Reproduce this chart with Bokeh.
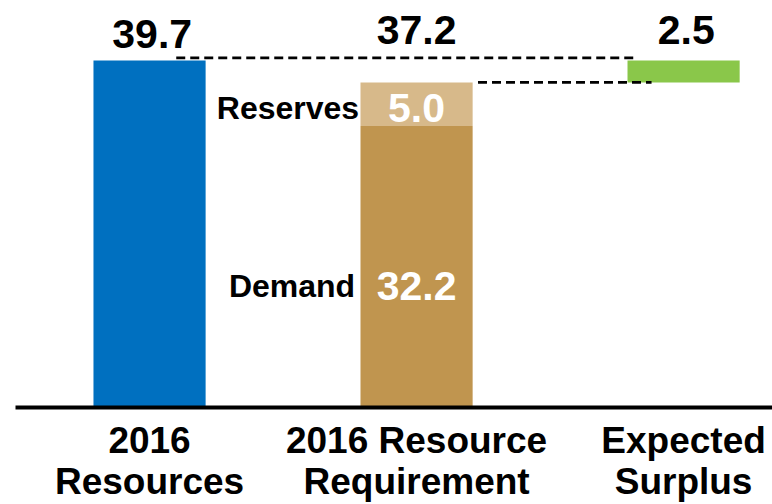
from bokeh.plotting import figure
from bokeh.models import Range1d, FixedTicker, ColumnDataSource
from bokeh.embed import file_html
from bokeh.resources import INLINE
from bokeh.core.properties import value

# ---- data ----
categories = ["2016 Resources", "2016 Resource Requirement", "Expected Surplus"]
tick_labels = ["2016\nResources", "2016 Resource\nRequirement", "Expected\nSurplus"]
resources = 39.7
demand = 32.2
reserves = 5.0
surplus = 2.5
requirement = 37.2

FONT = "Liberation Sans"
BLUE = "#0070C0"
TAN = "#C0954F"
LTAN = "#D7B98A"
GREEN = "#8AC74A"

xs = list(range(len(categories)))
W = 0.42

p = figure(width=772, height=504, output_backend="svg", toolbar_location=None,
           x_range=Range1d(-0.502, 2.333), y_range=Range1d(0, 46.57),
           min_border_left=15, min_border_right=0, min_border_top=0, min_border_bottom=97)
p.background_fill_color = "white"
p.border_fill_color = "white"
p.outline_line_color = None
p.xgrid.visible = False
p.ygrid.visible = False
p.yaxis.visible = False

# bars
bars = ColumnDataSource(dict(
    x=[xs[0], xs[1], xs[1], xs[2]],
    bottom=[0, 0, demand, requirement],
    top=[resources, demand, demand + reserves, requirement + surplus],
    color=[BLUE, TAN, LTAN, GREEN],
))
p.vbar(x="x", bottom="bottom", top="top", width=W, fill_color="color", line_color=None, source=bars)

# connector dashed lines
p.segment(x0=[xs[0] + 0.1, xs[1] + W / 2 + 0.02], y0=[resources + 0.3, requirement],
          x1=[xs[2] - W / 2 + 0.04, xs[2] - W / 2 + 0.09], y1=[resources + 0.3, requirement],
          line_color="black", line_width=2.8, line_dash="9 5")

# top value labels
top_src = ColumnDataSource(dict(x=[xs[0] + 0.01, xs[1], xs[2] + 0.01], y=[42.7, 43.2, 43.2],
                                text=[f"{resources:.1f}", f"{requirement:.1f}", f"{surplus:.1f}"]))
p.text(x="x", y="y", text="text", source=top_src, text_font=value(FONT), text_font_style="bold",
       text_font_size="41px", text_align="center", text_baseline="middle", text_color="black")

# inside labels
in_src = ColumnDataSource(dict(x=[xs[1], xs[1]], y=[demand + reserves * 0.42, demand * 0.43],
                               text=[f"{reserves:.1f}", f"{demand:.1f}"]))
p.text(x="x", y="y", text="text", source=in_src, text_font=value(FONT), text_font_style="bold",
       text_font_size="41px", text_align="center", text_baseline="middle", text_color="white")

# segment names
nm_src = ColumnDataSource(dict(x=[xs[1] - W / 2 - 0.005, xs[1] - W / 2 - 0.02],
                               y=[demand + reserves * 0.42, demand * 0.43],
                               text=["Reserves", "Demand"]))
p.text(x="x", y="y", text="text", source=nm_src, text_font=value(FONT), text_font_style="bold",
       text_font_size="32px", text_align="right", text_baseline="middle", text_color="black")

# x axis
ax = p.xaxis[0]
ax.ticker = FixedTicker(ticks=xs)
ax.major_label_overrides = {i: t for i, t in zip(xs, tick_labels)}
ax.major_label_text_font = FONT
ax.major_label_text_font_style = "bold"
ax.major_label_text_font_size = "37px"
ax.major_label_text_color = "black"
ax.major_label_text_line_height = 1.0
ax.major_label_standoff = 12
ax.major_tick_out = 0
ax.major_tick_in = 0
ax.major_tick_line_color = None
ax.minor_tick_line_color = None
ax.axis_line_color = "black"
ax.axis_line_width = 4

open("out.html", "w").write(file_html(p, INLINE))
